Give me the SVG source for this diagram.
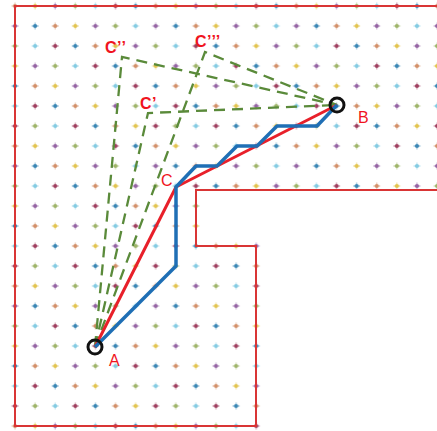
<svg xmlns="http://www.w3.org/2000/svg" xmlns:xlink="http://www.w3.org/1999/xlink" width="437" height="431" viewBox="0 0 437 431">
  <style>
    .p{color:#8e5a9e}.b{color:#2e7fb0}.o{color:#d0895f}.y{color:#e0c044}
    .l{color:#7cc8e0}.g{color:#98b060}.m{color:#993355}
    .wall{fill:none;stroke:#d93535;stroke-width:2;stroke-linejoin:miter}
    .alt{fill:none;stroke:#5a8a3a;stroke-width:2.3;stroke-dasharray:11 7}
    .straight{fill:none;stroke:#e8202a;stroke-width:3;stroke-linejoin:round}
    .grid{fill:none;stroke:#1f6fb5;stroke-width:3.5;stroke-linejoin:round}
    .pt{fill:none;stroke:#111;stroke-width:3}
    .lbl{font-family:"Liberation Sans",Arial,sans-serif;font-size:16px;fill:#f0141e}
    .bold{font-weight:bold;letter-spacing:0.5px}
  </style>
  <defs>
    <g id="d">
      <path d="M-3.5 0h7M0-3.5v7" stroke="currentColor" stroke-width="1.3" opacity="0.45"/>
      <circle r="2.1" fill="currentColor" opacity="0.9"/>
    </g>
    <pattern id="dots" patternUnits="userSpaceOnUse" x="4.95" y="-4" width="140.7" height="140">
      <use href="#d" x="10.05" y="10" class="o"/><use href="#d" x="30.15" y="10" class="y"/><use href="#d" x="50.25" y="10" class="p"/><use href="#d" x="70.35" y="10" class="g"/><use href="#d" x="90.45" y="10" class="l"/><use href="#d" x="110.55" y="10" class="m"/><use href="#d" x="130.65" y="10" class="b"/>
      <use href="#d" x="10.05" y="30" class="p"/><use href="#d" x="30.15" y="30" class="b"/><use href="#d" x="50.25" y="30" class="o"/><use href="#d" x="70.35" y="30" class="y"/><use href="#d" x="90.45" y="30" class="p"/><use href="#d" x="110.55" y="30" class="g"/><use href="#d" x="130.65" y="30" class="l"/>
      <use href="#d" x="10.05" y="50" class="g"/><use href="#d" x="30.15" y="50" class="l"/><use href="#d" x="50.25" y="50" class="m"/><use href="#d" x="70.35" y="50" class="b"/><use href="#d" x="90.45" y="50" class="o"/><use href="#d" x="110.55" y="50" class="y"/><use href="#d" x="130.65" y="50" class="p"/>
      <use href="#d" x="10.05" y="70" class="y"/><use href="#d" x="30.15" y="70" class="p"/><use href="#d" x="50.25" y="70" class="g"/><use href="#d" x="70.35" y="70" class="l"/><use href="#d" x="90.45" y="70" class="m"/><use href="#d" x="110.55" y="70" class="b"/><use href="#d" x="130.65" y="70" class="o"/>
      <use href="#d" x="10.05" y="90" class="b"/><use href="#d" x="30.15" y="90" class="o"/><use href="#d" x="50.25" y="90" class="y"/><use href="#d" x="70.35" y="90" class="p"/><use href="#d" x="90.45" y="90" class="g"/><use href="#d" x="110.55" y="90" class="l"/><use href="#d" x="130.65" y="90" class="m"/>
      <use href="#d" x="10.05" y="110" class="l"/><use href="#d" x="30.15" y="110" class="m"/><use href="#d" x="50.25" y="110" class="b"/><use href="#d" x="70.35" y="110" class="o"/><use href="#d" x="90.45" y="110" class="y"/><use href="#d" x="110.55" y="110" class="p"/><use href="#d" x="130.65" y="110" class="g"/>
      <use href="#d" x="10.05" y="130" class="m"/><use href="#d" x="30.15" y="130" class="g"/><use href="#d" x="50.25" y="130" class="l"/><use href="#d" x="70.35" y="130" class="m"/><use href="#d" x="90.45" y="130" class="b"/><use href="#d" x="110.55" y="130" class="o"/><use href="#d" x="130.65" y="130" class="y"/>
    </pattern>
  </defs>

  <rect width="437" height="431" fill="#fff"/>

  <!-- free space: dotted grid inside the L-shaped corridor -->
  <path d="M8 0H437V193H202V240H262V431H8Z" fill="url(#dots)"/>

  <!-- corridor walls -->
  <path class="wall" d="M437 6H15V426H256V246H196V190H437"/>

  <g id="connectors">
    <!-- candidate via-points -->
    <path class="alt" d="M95 347L148 113L337 105"/>
    <path class="alt" d="M95 347L122 57L337 105"/>
    <path class="alt" d="M95 347L205 52L337 105"/>
    <!-- any-angle path A-C-B -->
    <path class="straight" d="M95 347L176 187L337 105"/>
    <!-- grid-constrained path -->
    <path class="grid" d="M95 347L176 266V187L196 166H217L237 146H257L277 126H317L337 105"/>
  </g>

  <g id="A">
    <circle class="pt" cx="95" cy="347" r="7"/>
    <text class="lbl" x="109" y="366">A</text>
  </g>
  <g id="B">
    <circle class="pt" cx="337" cy="105" r="7"/>
    <text class="lbl" x="358" y="123">B</text>
  </g>
  <g id="C">
    <text class="lbl" x="161" y="186">C</text>
  </g>
  <g id="C1">
    <text class="lbl bold" x="140" y="109">C’</text>
  </g>
  <g id="C2">
    <text class="lbl bold" x="105" y="53">C’’</text>
  </g>
  <g id="C3">
    <text class="lbl bold" x="195" y="47">C’’’</text>
  </g>
</svg>
